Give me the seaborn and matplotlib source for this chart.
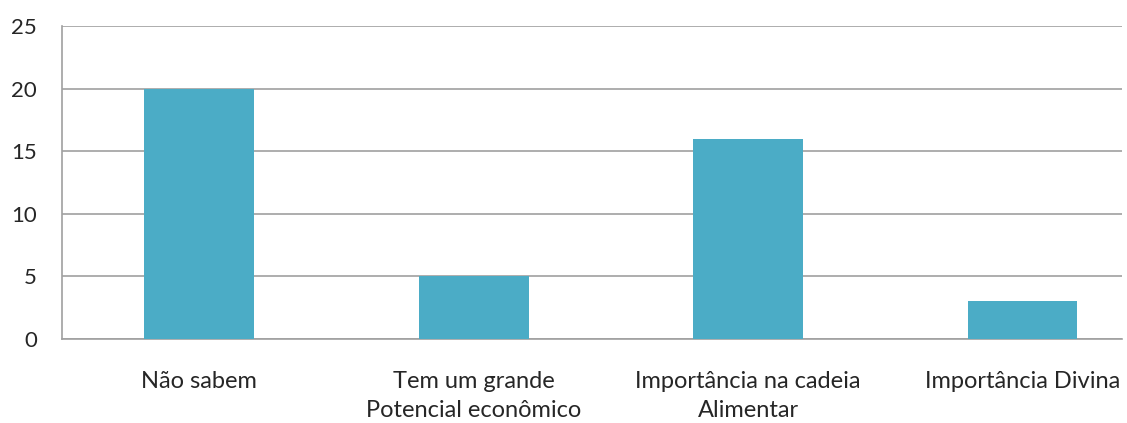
import matplotlib
matplotlib.use("Agg")
import matplotlib.pyplot as plt
import seaborn as sns
import pandas as pd

categories = ["Não sabem", "Tem um grande\nPotencial econômico",
              "Importância na cadeia\nAlimentar", "Importância Divina"]
values = [20, 5, 16, 3]
y_ticks = [0, 5, 10, 15, 20, 25]

sns.set_style("white")
plt.rcParams["font.family"] = ["Lato", "DejaVu Sans"]

df = pd.DataFrame({"categoria": categories, "valor": values})

fig = plt.figure(figsize=(11.27, 4.23), dpi=100)
ax = fig.add_axes([0.055, 0.1986, 0.9405, 0.7399])

sns.barplot(data=df, x="categoria", y="valor", color="#4BACC6",
            saturation=1, width=0.4, linewidth=0, ax=ax, zorder=3)

grid_color = "#a0a0a0"
text_color = "#262626"
ax.set_ylim(0, 25)
ax.set_xlim(-0.5, 3.362)
ax.set_yticks(y_ticks)
ax.yaxis.grid(True, color=grid_color, linewidth=1.2, zorder=0)
ax.set_axisbelow(True)

for side in ["top", "right"]:
    ax.spines[side].set_visible(False)
for side in ["left", "bottom"]:
    ax.spines[side].set_color(grid_color)
    ax.spines[side].set_linewidth(1.2)

ax.tick_params(axis="y", length=8, width=1.2, color=grid_color,
               labelsize=16, pad=10, labelcolor=text_color)
ax.tick_params(axis="x", which="major", length=0, labelsize=17,
               pad=23, labelcolor=text_color)
for lbl in ax.get_xticklabels():
    lbl.set_linespacing(1.5)
ax.set_xticks([-0.5, 0.5, 1.5, 2.5], minor=True)
ax.tick_params(axis="x", which="minor", length=7, width=1.2,
               color=grid_color)
ax.set_xlabel("")
ax.set_ylabel("")

fig.savefig("out.png", dpi=100)
